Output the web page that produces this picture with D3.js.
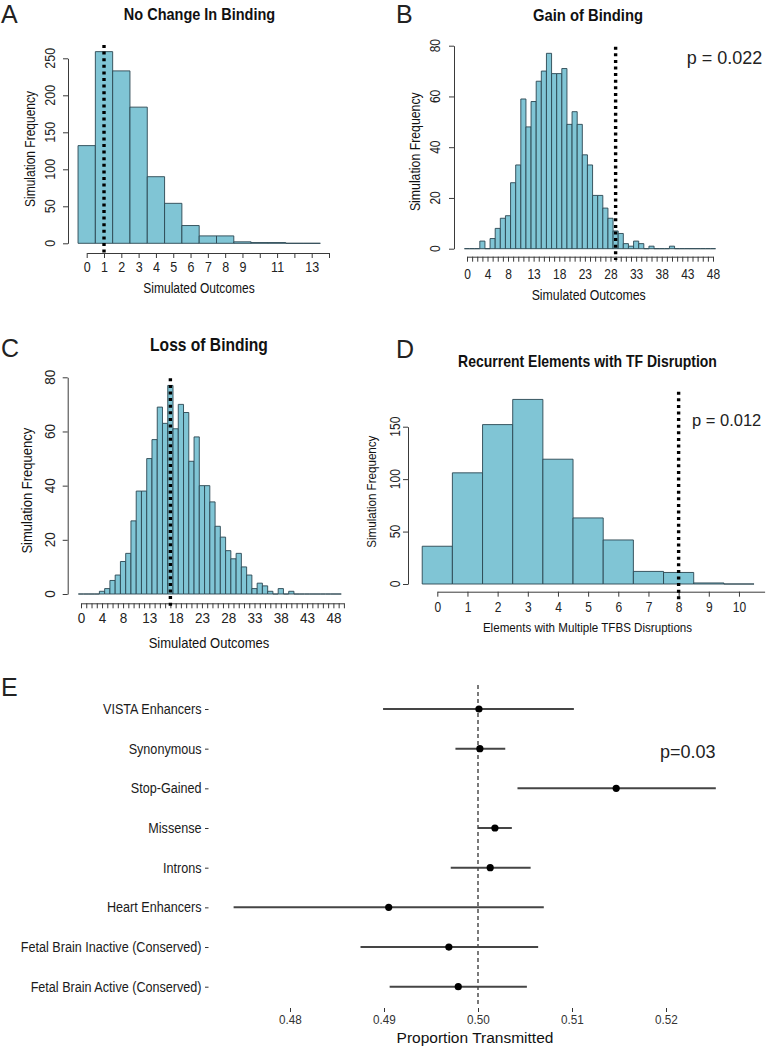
<!DOCTYPE html>
<html><head><meta charset="utf-8">
<script src="https://cdn.jsdelivr.net/npm/d3@7"></script>
<style>
body{margin:0;background:#fff}
svg{display:block}
text{font-family:"Liberation Sans",Arial,Helvetica,sans-serif}
</style>
</head><body>
<svg id="c" width="771" height="1050"></svg>
<script>
// ---------------- DATA ----------------
// Panel A: No Change In Binding
const valuesA = [0,1,2,3,4,5,6,7,8,9,10,11,12,13];
const countsA = [132,259,233,184,90,54,24,10,10,2,1,1,0,0];
const obsA = 1;
const xTicksA = [0,1,2,3,4,5,6,7,8,9,10,11,12,13,14];
const xLabelsA = [0,1,2,3,4,5,6,7,8,9,11,13];
const yTicksA = [0,50,100,150,200,250];

// Panel B: Gain of Binding
const valuesB = [0,1,2,3,4,5,6,7,8,9,10,11,12,13,14,15,16,17,18,19,20,21,22,23,24,25,26,27,28,29,30,31,32,33,34,35,36,37,38,39,40,41,42,43,44,45,46,47,48];
const countsB = [0,0,0,3,0,4,8,12,13,26,33,59,48,58,66,70,77,69,69,71,49,54,49,37,33,21,21,16,12,7,6,2,1,3,2,0,1,0,0,0,1,0,0,0,0,0,0,0,0];
const obsB = 29;
const xTicksB = [0,1,2,3,4,5,6,7,8,9,10,11,12,13,14,15,16,17,18,19,20,21,22,23,24,25,26,27,28,29,30,31,32,33,34,35,36,37,38,39,40,41,42,43,44,45,46,47,48];
const xLabelsB = [0,4,8,13,18,23,28,33,38,43,48];
const yTicksB = [0,20,40,60,80];
const pTextB = "p = 0.022";

// Panel C: Loss of Binding
const valuesC = [0,1,2,3,4,5,6,7,8,9,10,11,12,13,14,15,16,17,18,19,20,21,22,23,24,25,26,27,28,29,30,31,32,33,34,35,36,37,38,39,40,41,42,43,44,45,46,47,48,49];
const countsC = [0,0,0,0,1,2,5,7,12,15,27,38,38,50,57,69,63,77,61,70,67,49,58,40,40,34,25,21,16,13,15,10,7,2,4,3,1,0,2,0,1,0,0,0,0,0,0,0,0,0];
const obsC = 17;
const xTicksC = [0,1,2,3,4,5,6,7,8,9,10,11,12,13,14,15,16,17,18,19,20,21,22,23,24,25,26,27,28,29,30,31,32,33,34,35,36,37,38,39,40,41,42,43,44,45,46,47,48,49,50];
const xLabelsC = [0,4,8,13,18,23,28,33,38,43,48];
const yTicksC = [0,20,40,60,80];

// Panel D: Recurrent Elements with TF Disruption
const valuesD = [0,1,2,3,4,5,6,7,8,9,10];
const countsD = [36,106,152,176,119,63,42,12,11,1,0];
const obsD = 8;
const xTicksD = [0,1,2,3,4,5,6,7,8,9,10];
const xLabelsD = [0,1,2,3,4,5,6,7,8,9,10];
const yTicksD = [0,50,100,150];
const pTextD = "p = 0.012";

// Panel E: Proportion Transmitted
const catsE = ["VISTA Enhancers","Synonymous","Stop-Gained","Missense","Introns","Heart Enhancers","Fetal Brain Inactive (Conserved)","Fetal Brain Active (Conserved)"];
const estE  = [0.5001,0.5002,0.5147,0.5018,0.5013,0.4905,0.4969,0.4979];
const lowE  = [0.4899,0.4976,0.5042,0.5000,0.4971,0.4740,0.4875,0.4906];
const highE = [0.5102,0.5029,0.5253,0.5036,0.5056,0.5070,0.5064,0.5052];
const ticksE = [0.48,0.49,0.50,0.51,0.52];
const refE = 0.50;
const pTextE = "p=0.03";

// ---------------- DRAWING ----------------
const svg = d3.select("#c");
const FILL = "#80c5d5", EDGE = "#2a4651", AX = "#3a3a3a";
const SQ = 0.87;          // horizontal condensation of the histogram lettering
const UP = 1 / SQ;

function hist(cfg) {
  const g = svg.append("g");
  const x = d3.scaleLinear().domain(cfg.xDomain).range(cfg.xRange);
  const y = d3.scaleLinear().domain(cfg.yDomain).range(cfg.yRange);
  const data = cfg.values.map((v, i) => ({v, c: cfg.counts[i]}));
  g.selectAll("path.bar").data(data).join("path").attr("class", "bar")
    .attr("d", d => `M${x(d.v - 0.5)},${y(0)}V${y(d.c)}H${x(d.v + 0.5)}V${y(0)}Z`)
    .attr("fill", FILL).attr("stroke", EDGE).attr("stroke-width", 0.9);

  // y axis
  const ya = g.append("g").attr("transform", `translate(${cfg.yAxisX},0)`)
    .call(d3.axisLeft(y).tickValues(cfg.yTicks).tickSize(5).tickSizeOuter(0).tickFormat(""));
  ya.selectAll("path,line").attr("stroke", AX);
  g.selectAll("text.yl").data(cfg.yTicks).join("text").attr("class", "yl sq")
    .attr("transform", d => `translate(${cfg.yLabX},${y(d)}) rotate(-90)`)
    .attr("text-anchor", "middle").attr("dy", "0.35em")
    .attr("font-size", cfg.fsTick * UP).attr("fill", "#222").text(d => d);

  // x axis
  const xa = g.append("g").attr("transform", `translate(0,${cfg.xAxisY})`)
    .call(d3.axisBottom(x).tickValues(cfg.xTicks).tickSize(5).tickSizeOuter(0)
      .tickFormat(d => cfg.xLabels.includes(d) ? d : ""));
  xa.selectAll("path,line").attr("stroke", AX);
  xa.selectAll("text").attr("class", "sq").attr("y", cfg.xLabY - cfg.xAxisY).attr("dy", "0.35em")
    .attr("font-size", cfg.fsTick * UP).attr("fill", "#222").attr("font-family", '"Liberation Sans",Arial,sans-serif');

  // observed value line
  g.append("line").attr("x1", x(cfg.obs)).attr("x2", x(cfg.obs))
    .attr("y1", cfg.dotTop).attr("y2", cfg.dotBot)
    .attr("stroke", "#000").attr("stroke-width", 3.4).attr("stroke-dasharray", "3,3.6");

  // titles
  g.append("text").attr("class", "sq").attr("x", cfg.titleX).attr("y", cfg.titleY).attr("text-anchor", "middle")
    .attr("font-weight", "bold").attr("font-size", cfg.fsTitle * UP).attr("fill", "#111").text(cfg.title);
  g.append("text").attr("class", "sq").attr("x", cfg.xTitleX).attr("y", cfg.xTitleY).attr("text-anchor", "middle")
    .attr("dy", "0.35em").attr("font-size", cfg.fsAxis * UP).attr("fill", "#111").text(cfg.xTitle);
  g.append("text").attr("class", "sq").attr("transform", `translate(${cfg.yTitleX},${cfg.yTitleY}) rotate(-90)`)
    .attr("text-anchor", "middle").attr("dy", "0.35em")
    .attr("font-size", cfg.fsAxis * UP).attr("fill", "#111").text("Simulation Frequency");

  // panel letter
  svg.append("text").attr("x", cfg.letterX).attr("y", cfg.letterY)
    .attr("font-family", '"Open Sans",sans-serif').attr("font-weight", 300)
    .attr("font-size", 25).attr("fill", "#222").text(cfg.letter);
  if (cfg.pText) {
    svg.append("text").attr("x", cfg.pX).attr("y", cfg.pY)
      .attr("font-family", '"Open Sans",sans-serif').attr("font-size", cfg.fsP)
      .attr("fill", "#222").text(cfg.pText);
  }
}

hist({
  values: valuesA, counts: countsA, obs: obsA, xTicks: xTicksA, xLabels: xLabelsA, yTicks: yTicksA,
  xDomain: [0, 14], xRange: [86.7, 329], yDomain: [0, 250], yRange: [243.3, 58.3],
  yAxisX: 68, yLabX: 50, xAxisY: 253, xLabY: 266.7, dotTop: 45, dotBot: 256,
  title: "No Change In Binding", titleX: 199.5, titleY: 19.8,
  xTitle: "Simulated Outcomes", xTitleX: 199, xTitleY: 288.3, yTitleX: 30, yTitleY: 149,
  fsTitle: 14.5, fsAxis: 12, fsTick: 12.5, letter: "A", letterX: 1, letterY: 23
});

hist({
  values: valuesB, counts: countsB, obs: obsB, xTicks: xTicksB, xLabels: xLabelsB, yTicks: yTicksB,
  xDomain: [0, 48], xRange: [467, 713], yDomain: [0, 80], yRange: [248.7, 45.7],
  yAxisX: 454, yLabX: 435, xAxisY: 256.7, xLabY: 274, dotTop: 46.7, dotBot: 260,
  title: "Gain of Binding", titleX: 588, titleY: 21,
  xTitle: "Simulated Outcomes", xTitleX: 588.7, xTitleY: 295, yTitleX: 415, yTitleY: 151.7,
  fsTitle: 14.8, fsAxis: 12.3, fsTick: 12, letter: "B", letterX: 396, letterY: 22.5,
  pText: pTextB, pX: 686.7, pY: 64.3, fsP: 18
});

hist({
  values: valuesC, counts: countsC, obs: obsC, xTicks: xTicksC, xLabels: xLabelsC, yTicks: yTicksC,
  xDomain: [0, 50], xRange: [81, 343.9], yDomain: [0, 80], yRange: [594, 377.3],
  yAxisX: 67.7, yLabX: 50, xAxisY: 603.3, xLabY: 617.7, dotTop: 378.3, dotBot: 606,
  title: "Loss of Binding", titleX: 209, titleY: 350.5,
  xTitle: "Simulated Outcomes", xTitleX: 209, xTitleY: 642.7, yTitleX: 26.7, yTitleY: 490.7,
  fsTitle: 15.6, fsAxis: 13, fsTick: 13.5, letter: "C", letterX: 1, letterY: 357
});

hist({
  values: valuesD, counts: countsD, obs: obsD, xTicks: xTicksD, xLabels: xLabelsD, yTicks: yTicksD,
  xDomain: [0, 10.85], xRange: [437.3, 764.6], yDomain: [0, 150], yRange: [584, 426.7],
  yAxisX: 408, yLabX: 395, xAxisY: 591.7, xLabY: 607.3, dotTop: 391.7, dotBot: 600,
  title: "Recurrent Elements with TF Disruption", titleX: 587.5, titleY: 367,
  xTitle: "Elements with Multiple TFBS Disruptions", xTitleX: 587.5, xTitleY: 627.3,
  yTitleX: 371, yTitleY: 491.7,
  fsTitle: 14, fsAxis: 11.6, fsTick: 12, letter: "D", letterX: 396, letterY: 357.5,
  pText: pTextD, pX: 692, pY: 426, fsP: 16.5
});

// ---------------- Panel E ----------------
(function () {
  const g = svg.append("g");
  const x = d3.scaleLinear().domain([0.48, 0.52]).range([290, 666]);
  const y = d3.scalePoint().domain(catsE).range([709, 986.7]);
  const panelLeft = 208.5, panelTop = 685, panelBottom = 1008;
  const rows = catsE.map((c, i) => ({c, est: estE[i], lo: lowE[i], hi: highE[i]}));

  g.append("line").attr("x1", x(refE)).attr("x2", x(refE)).attr("y1", panelTop).attr("y2", panelBottom - 4)
    .attr("stroke", "#333").attr("stroke-width", 1.3).attr("stroke-dasharray", "4,3");

  g.selectAll("line.ci").data(rows).join("line").attr("class", "ci")
    .attr("x1", d => x(d.lo)).attr("x2", d => x(d.hi))
    .attr("y1", d => y(d.c)).attr("y2", d => y(d.c))
    .attr("stroke", "#454545").attr("stroke-width", 2);
  g.selectAll("circle").data(rows).join("circle")
    .attr("cx", d => x(d.est)).attr("cy", d => y(d.c)).attr("r", 3.6).attr("fill", "#000");

  const ya = g.append("g").attr("transform", `translate(${panelLeft},0)`)
    .call(d3.axisLeft(y).tickSize(3.5).tickPadding(3.5));
  ya.select(".domain").remove();
  ya.selectAll("line").attr("stroke", "#333");
  ya.selectAll("text").attr("class", "sq2").attr("font-size", 14).attr("fill", "#1a1a1a")
    .attr("font-family", '"Liberation Sans",Arial,sans-serif');

  const xa = g.append("g").attr("transform", `translate(0,${panelBottom})`)
    .call(d3.axisBottom(x).tickValues(ticksE).tickSize(4).tickPadding(3).tickFormat(d3.format(".2f")));
  xa.select(".domain").remove();
  xa.selectAll("line").attr("stroke", "#333");
  xa.selectAll("text").attr("class", "sq2").attr("font-size", 13).attr("fill", "#333")
    .attr("font-family", '"Liberation Sans",Arial,sans-serif');

  g.append("text").attr("x", 475).attr("y", 1043).attr("text-anchor", "middle")
    .attr("font-size", 15.5).attr("fill", "#111").text("Proportion Transmitted");

  g.append("text").attr("x", 660).attr("y", 758)
    .attr("font-family", '"Open Sans",sans-serif').attr("font-size", 18).attr("fill", "#222").text(pTextE);

  svg.append("text").attr("x", 1).attr("y", 696)
    .attr("font-family", '"Open Sans",sans-serif').attr("font-weight", 300)
    .attr("font-size", 25).attr("fill", "#222").text("E");
})();

// condense lettering horizontally (keeps real text)
function squeeze(sel, f) {
  sel.each(function () {
    const w = this.getComputedTextLength();
    if (w > 0) d3.select(this).attr("textLength", w * f).attr("lengthAdjust", "spacingAndGlyphs");
  });
}
squeeze(svg.selectAll("text.sq"), SQ);
squeeze(svg.selectAll("text.sq2"), 0.9);
</script>
</body></html>
